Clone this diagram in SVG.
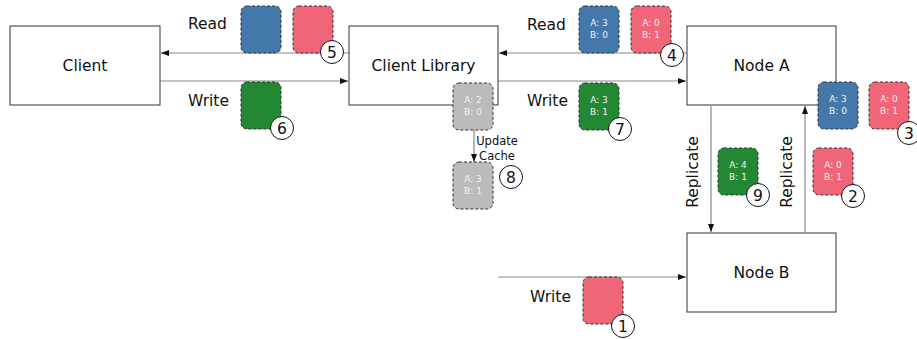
<svg xmlns="http://www.w3.org/2000/svg" width="917" height="339" viewBox="0 0 917 339">
<defs>
<marker id="ah" viewBox="0 0 8 8" refX="8" refY="4" markerWidth="8" markerHeight="8" markerUnits="userSpaceOnUse" orient="auto">
<path d="M0,1 L8,4 L0,7 Z" fill="#111"/>
</marker>
</defs>
<style>
.box{fill:#fff;stroke:#333;stroke-width:1}
.lbl{font-family:"DejaVu Sans",sans-serif;font-size:15.5px;fill:#111}
.ln{stroke:#888;stroke-width:1.2;fill:none;marker-end:url(#ah)}
.blk{stroke:#333;stroke-width:1;stroke-dasharray:3 2}
.blue{fill:#4477AA}.red{fill:#EE6677}.green{fill:#228833}.gray{fill:#BBBBBB}
.bt{font-family:"DejaVu Sans",sans-serif;font-size:9px;fill:#f2f2f2;text-anchor:middle}
.num circle{fill:#fff;stroke:#111;stroke-width:1}
.num text{font-family:"DejaVu Sans",sans-serif;font-size:15.5px;fill:#111;text-anchor:middle}
.sm{font-family:"DejaVu Sans",sans-serif;font-size:11.5px;fill:#111;text-anchor:middle}
</style>
<rect width="917" height="339" fill="#fff"/>
<g id="connectors">
<line class="ln" x1="349" y1="53" x2="161" y2="53"/>
<line class="ln" x1="160" y1="81" x2="348" y2="81"/>
<line class="ln" x1="687" y1="53" x2="499" y2="53"/>
<line class="ln" x1="498" y1="81" x2="686" y2="81"/>
<line class="ln" x1="474" y1="130" x2="474" y2="162"/>
<line class="ln" x1="711" y1="106" x2="711" y2="232"/>
<line class="ln" x1="805" y1="232" x2="805" y2="106"/>
<line class="ln" x1="498" y1="277" x2="686" y2="277"/>
<text class="lbl" x="188" y="29">Read</text>
<text class="lbl" x="188" y="106">Write</text>
<text class="lbl" x="527" y="30">Read</text>
<text class="lbl" x="527" y="106">Write</text>
<text class="lbl" x="530" y="302">Write</text>
<text class="sm" x="497" y="145">Update</text>
<text class="sm" x="497" y="160">Cache</text>
<text class="lbl" text-anchor="middle" transform="translate(698,172) rotate(-90)">Replicate</text>
<text class="lbl" text-anchor="middle" transform="translate(792,172) rotate(-90)">Replicate</text>
</g>
<g id="client"><rect class="box" x="10" y="26" width="150" height="79"/><text class="lbl" x="85" y="71" text-anchor="middle">Client</text></g>
<g id="client-library"><rect class="box" x="349" y="26" width="149" height="79"/><text class="lbl" x="423.5" y="71" text-anchor="middle">Client Library</text></g>
<g id="node-a"><rect class="box" x="687" y="26" width="149" height="79"/><text class="lbl" x="761.5" y="71" text-anchor="middle">Node A</text></g>
<g id="node-b"><rect class="box" x="687" y="233" width="149" height="79"/><text class="lbl" x="761.5" y="278" text-anchor="middle">Node B</text></g>

<g id="b-client-read-blue"><rect class="blk blue" x="241" y="6" width="40" height="47" rx="6"/></g>
<g id="b-client-read-red"><rect class="blk red" x="293" y="6" width="40" height="47" rx="6"/></g>
<g id="b-client-write"><rect class="blk green" x="241" y="82" width="40" height="47" rx="6"/></g>
<g id="b-lib-read-blue"><rect class="blk blue" x="579" y="6" width="40" height="47" rx="6"/><text class="bt" x="599" y="26">A: 3</text><text class="bt" x="599" y="38">B: 0</text></g>
<g id="b-lib-read-red"><rect class="blk red" x="631" y="6" width="40" height="47" rx="6"/><text class="bt" x="651" y="26">A: 0</text><text class="bt" x="651" y="38">B: 1</text></g>
<g id="b-lib-write"><rect class="blk green" x="579" y="83" width="40" height="47" rx="6"/><text class="bt" x="599" y="103">A: 3</text><text class="bt" x="599" y="115">B: 1</text></g>
<g id="b-cache-old"><rect class="blk gray" x="453" y="83" width="40" height="47" rx="6"/><text class="bt" x="473" y="103">A: 2</text><text class="bt" x="473" y="115">B: 0</text></g>
<g id="b-cache-new"><rect class="blk gray" x="453" y="162" width="40" height="47" rx="6"/><text class="bt" x="473" y="182">A: 3</text><text class="bt" x="473" y="194">B: 1</text></g>
<g id="b-nodea-blue"><rect class="blk blue" x="818" y="82" width="40" height="47" rx="6"/><text class="bt" x="838" y="102">A: 3</text><text class="bt" x="838" y="114">B: 0</text></g>
<g id="b-nodea-red"><rect class="blk red" x="869" y="82" width="40" height="47" rx="6"/><text class="bt" x="889" y="102">A: 0</text><text class="bt" x="889" y="114">B: 1</text></g>
<g id="b-rep-green"><rect class="blk green" x="718" y="148" width="40" height="47" rx="6"/><text class="bt" x="738" y="168">A: 4</text><text class="bt" x="738" y="180">B: 1</text></g>
<g id="b-rep-red"><rect class="blk red" x="813" y="148" width="40" height="47" rx="6"/><text class="bt" x="833" y="168">A: 0</text><text class="bt" x="833" y="180">B: 1</text></g>
<g id="b-write-b"><rect class="blk red" x="583" y="277" width="40" height="47" rx="6"/></g>

<g id="n1" class="num"><circle cx="623" cy="326" r="11.5"/><text x="623" y="331.5">1</text></g>
<g id="n2" class="num"><circle cx="853" cy="196" r="11.5"/><text x="853" y="201.5">2</text></g>
<g id="n3" class="num"><circle cx="909" cy="133" r="11.5"/><text x="909" y="138.5">3</text></g>
<g id="n4" class="num"><circle cx="672" cy="55" r="11.5"/><text x="672" y="60.5">4</text></g>
<g id="n5" class="num"><circle cx="332" cy="52" r="11.5"/><text x="332" y="57.5">5</text></g>
<g id="n6" class="num"><circle cx="282" cy="128" r="11.5"/><text x="282" y="133.5">6</text></g>
<g id="n7" class="num"><circle cx="620" cy="129" r="11.5"/><text x="620" y="134.5">7</text></g>
<g id="n8" class="num"><circle cx="511" cy="177" r="11.5"/><text x="511" y="182.5">8</text></g>
<g id="n9" class="num"><circle cx="758" cy="195" r="11.5"/><text x="758" y="200.5">9</text></g>
</svg>
